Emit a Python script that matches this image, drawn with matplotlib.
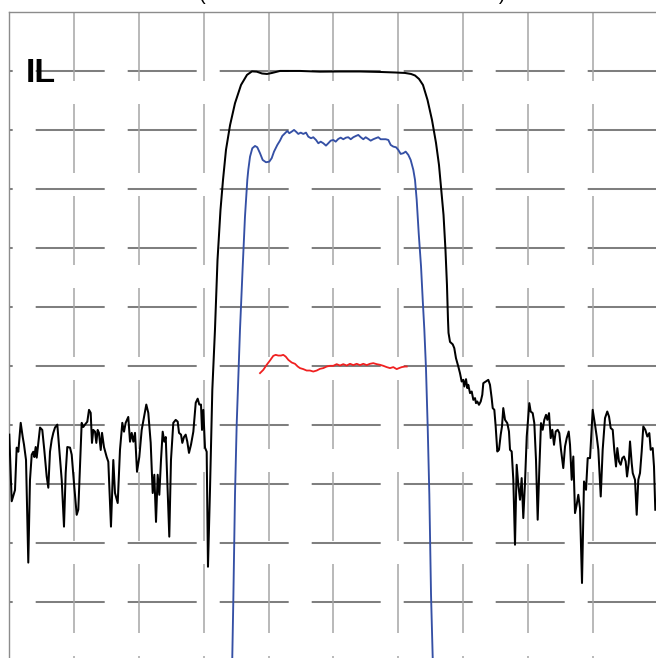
import matplotlib
matplotlib.use("Agg")
import matplotlib.pyplot as plt

plt.rcParams['lines.scale_dashes'] = False
plt.rcParams['font.family'] = ['Liberation Sans', 'DejaVu Sans']

# ---------------- data (x: frequency, 10 units/div; y: dB, 10 dB/div) ----------------
black_x = [0.0, 0.37, 0.88, 1.14, 1.39, 1.76, 2.07, 2.27, 2.58, 2.93, 3.19, 3.46, 3.70, 3.86, 4.07,
           4.23, 4.48, 4.74, 5.09, 5.40, 5.77, 6.02, 6.28, 6.54, 6.79, 7.05, 7.41, 7.72, 8.09, 8.44,
           8.70, 8.95, 9.37, 9.63, 9.98, 10.40, 10.65, 10.91, 11.17, 11.42, 11.68, 12.04, 12.30, 12.56,
           12.76, 12.96, 13.23, 13.43, 13.64, 13.84, 14.11, 14.31, 14.61, 15.03, 15.28, 15.69, 16.05,
           16.31, 16.73, 17.08, 17.44, 17.70, 17.96, 18.36, 18.63, 18.89, 19.14, 19.40, 19.71, 20.06,
           20.43, 20.79, 21.14, 21.45, 21.82, 22.13, 22.38, 22.64, 22.90, 23.15, 23.41, 23.67, 23.92,
           24.14, 24.38, 24.69, 24.95, 25.31, 25.68, 25.99, 26.19, 26.50, 26.70, 26.96, 27.22, 27.47,
           27.73, 28.04, 28.40, 28.77, 29.07, 29.32, 29.58, 29.74, 29.94, 30.20, 30.46, 30.66, 30.97,
           31.33, 31.74, 32.13, 32.59, 32.98, 33.44, 34.07, 34.83, 35.76, 36.68, 37.45, 38.18, 39.00,
           39.77, 40.54, 41.77, 43.31, 44.86, 47.95, 51.03, 54.12, 57.20, 59.52, 61.06, 61.99, 62.61,
           63.23, 63.84, 64.54, 65.23, 65.85, 66.31, 66.62, 67.01, 67.31, 67.54, 67.70, 67.78, 68.01,
           68.43, 68.67, 68.93, 69.29, 69.55, 69.81, 70.06, 70.22, 70.48, 70.68, 70.83, 71.10, 71.36,
           71.61, 71.87, 72.02, 72.22, 72.48, 72.75, 72.99, 73.15, 73.52, 73.92, 74.18, 74.44, 74.60,
           74.85, 75.06, 75.31, 75.57, 75.83, 76.03, 76.23, 76.50, 76.85, 77.11, 77.27, 77.53, 77.78,
           78.04, 78.30, 78.55, 78.81, 79.07, 79.32, 79.58, 79.85, 80.25, 80.46, 80.77, 81.02, 81.28,
           81.54, 81.79, 82.05, 82.31, 82.56, 82.83, 83.03, 83.29, 83.55, 83.80, 84.06, 84.32, 84.63,
           84.88, 85.14, 85.49, 85.76, 86.02, 86.33, 86.53, 86.79, 87.04, 87.30, 87.56, 87.81, 88.07,
           88.38, 88.69, 89.00, 89.26, 89.62, 90.03, 90.39, 90.65, 90.90, 91.27, 91.57, 91.93, 92.28,
           92.55, 92.81, 93.12, 93.36, 93.63, 93.83, 94.09, 94.35, 94.60, 94.86, 95.12, 95.33, 95.59,
           95.79, 96.05, 96.21, 96.56, 96.82, 97.07, 97.33, 97.59, 97.84, 98.15, 98.46, 98.77, 98.98,
           99.29, 99.49, 99.69]
black_y = [-71.7, -83.0, -81.1, -73.9, -74.6, -69.7, -72.1, -73.4, -76.0, -93.4, -79.4, -75.1, -74.6, -75.5, -73.8,
           -75.6, -73.1, -70.5, -70.9, -74.3, -78.8, -80.7, -74.6, -72.6, -71.4, -70.5, -70.0, -74.3, -79.4, -87.3,
           -78.2, -73.8, -73.9, -75.1, -79.9, -85.3, -84.4, -77.2, -69.7, -70.4, -70.0, -69.5, -67.5, -68.0,
           -73.1, -70.9, -71.2, -73.1, -70.9, -71.4, -74.3, -71.4, -73.8, -75.5, -76.3, -87.3, -76.0,
           -81.6, -83.3, -74.3, -69.7, -71.2, -69.7, -68.7, -72.9, -71.4, -72.9, -71.4, -78.0, -75.5,
           -70.9, -68.7, -66.6, -68.0, -73.1, -81.6, -78.5, -86.5, -78.5, -81.9, -76.0, -71.2, -72.9,
           -72.1, -79.4, -89.0, -76.0, -69.7, -69.2, -69.5, -71.4, -71.7, -73.1, -72.1, -71.7, -72.9,
           -74.8, -73.4, -71.2, -66.3, -65.6, -66.6, -66.6, -70.9, -67.5, -73.9, -74.6, -94.1, -81.1,
           -64.1, -53.9, -42.1, -33.6, -28.5, -23.4, -19.2, -15.5, -12.4, -10.7, -10.1, -10.15, -10.46,
           -10.54, -10.37, -10.03, -10.03, -10.03, -10.15, -10.12, -10.12, -10.20, -10.29, -10.37, -10.54, -10.80,
           -11.39, -12.41, -14.95, -18.34, -22.24, -25.97, -29.69, -34.44, -40.37, -46.30, -52.24, -54.44, -55.97,
           -56.39, -57.03, -58.73, -60.15, -61.27, -62.69, -62.41, -63.54, -62.29, -63.81, -63.25, -64.66, -64.39,
           -65.80, -65.51, -66.36, -66.08, -66.64, -66.08, -64.95, -62.97, -62.69, -62.41, -63.25, -65.51, -67.20,
           -67.49, -70.32, -74.56, -74.27, -71.73, -70.32, -67.20, -69.19, -69.75, -71.17, -74.27, -74.56, -79.36,
           -90.37, -76.81, -80.20, -82.74, -79.07, -85.85, -79.91, -72.02, -66.36, -67.78, -68.05, -69.75, -75.97,
           -86.13, -77.66, -69.75, -70.88, -69.19, -68.34, -69.19, -68.05, -72.29, -70.88, -73.42, -71.17, -70.88,
           -71.44, -74.27, -77.37, -73.71, -72.29, -71.17, -73.42, -79.36, -75.41, -85.00, -83.59, -81.90, -84.15,
           -96.86, -79.64, -81.05, -75.68, -75.68, -67.49, -70.03, -72.02, -74.27, -82.19, -74.27, -68.90, -67.78,
           -68.63, -70.59, -70.88, -74.27, -77.10, -73.98, -76.25, -76.81, -75.68, -75.41, -76.25, -78.80, -76.53,
           -72.86, -76.53, -78.22, -79.36, -85.29, -79.36, -78.22, -74.56, -70.32, -70.88, -72.02, -71.44, -74.27,
           -73.98, -77.10, -84.44]

blue_x = [34.32, 34.41, 34.57, 34.83, 35.09, 35.60, 36.02, 36.37, 36.73, 36.88, 37.15, 37.50, 37.92, 38.27,
          38.69, 39.10, 39.61, 40.12, 40.49, 40.85, 41.36, 41.77, 42.13, 42.55, 42.90, 43.21, 43.58, 43.94,
          44.24, 44.60, 44.97, 45.37, 45.79, 46.14, 46.56, 46.91, 47.33, 47.69, 48.06, 48.46, 48.87, 49.23,
          49.60, 50.00, 50.37, 50.77, 51.14, 51.54, 51.96, 52.31, 52.69, 53.09, 53.50, 53.86, 54.23, 54.63,
          55.00, 55.40, 55.77, 56.17, 56.54, 56.94, 57.31, 57.72, 58.09, 58.49, 58.86, 59.26, 59.68, 60.03,
          60.40, 60.80, 61.17, 61.58, 61.94, 62.35, 62.61, 62.87, 63.18, 63.54, 63.80, 64.05, 64.30, 64.57,
          64.82, 65.08, 65.34, 65.42]
blue_y = [-115.0, -109.5, -99.86, -81.85, -69.98, -53.93, -43.20, -34.73, -28.51, -26.81, -24.56, -23.14, -22.75, -22.97,
          -23.98, -25.12, -25.51, -25.41, -24.83, -23.71, -22.58, -21.85, -21.05, -20.59, -20.20, -20.59, -20.32, -20.03,
          -20.32, -20.71, -20.49, -20.71, -20.49, -21.17, -21.44, -21.27, -21.73, -22.29, -22.02, -22.29, -22.69, -22.29,
          -21.85, -21.73, -22.02, -21.56, -21.34, -21.61, -21.34, -21.27, -21.61, -21.27, -21.05, -20.88, -21.27, -21.61,
          -21.27, -21.56, -21.85, -21.61, -21.44, -21.27, -21.61, -21.61, -21.61, -21.73, -22.58, -22.86, -22.97, -23.42,
          -24.10, -23.98, -23.71, -24.27, -25.12, -26.81, -28.51, -31.90, -37.54, -43.20, -48.85, -53.93, -60.37, -70.54,
          -81.85, -98.80, -109.5, -115.0]

red_x = [38.69, 39.20, 39.72, 40.23, 40.74, 41.11, 41.51, 41.93, 42.28, 42.65, 43.06, 43.58, 44.09, 44.51,
         44.86, 45.37, 45.89, 46.40, 46.91, 47.44, 47.95, 48.46, 48.98, 49.49, 50.00, 50.52, 51.03, 51.54,
         52.07, 52.58, 53.09, 53.61, 54.12, 54.63, 55.16, 55.66, 56.17, 56.70, 57.21, 57.72, 58.24, 58.75,
         59.26, 59.78, 60.14, 60.56, 61.06, 61.33]
red_y = [-61.27, -60.71, -59.86, -59.13, -58.34, -58.17, -58.29, -58.29, -58.17, -58.46, -59.02, -59.47, -59.69, -60.15,
         -60.42, -60.59, -60.83, -60.83, -61.00, -60.83, -60.54, -60.42, -60.15, -60.03, -60.03, -59.75, -59.98, -59.75,
         -59.98, -59.69, -59.91, -59.69, -59.91, -59.69, -59.91, -59.69, -59.58, -59.75, -59.86, -60.03, -60.25, -60.42,
         -60.25, -60.59, -60.42, -60.25, -60.15, -60.15]

x_grid = [10, 20, 30, 40, 50, 60, 70, 80, 90]
y_grid = [-10, -20, -30, -40, -50, -60, -70, -80, -90, -100]
x_range = (0, 100)
y_range = (-110, 0)
label_text = "IL"
title_text = "(IL and Return Loss Measurement)"

# ---------------- figure ----------------
W, H, DPI = 656, 658, 100
fig = plt.figure(figsize=(W / DPI, H / DPI), dpi=DPI)
fig.patch.set_facecolor('white')
ax = fig.add_axes([9.3 / W, (H - 660.5) / H, 648.0 / W, 648.7 / H])
ax.set_xlim(*x_range)
ax.set_ylim(*y_range)
ax.set_xticks([])
ax.set_yticks([])
for s in ('right', 'bottom'):
    ax.spines[s].set_visible(False)
for s in ('left', 'top'):
    ax.spines[s].set_color('#8c8c8c')
    ax.spines[s].set_linewidth(1.0)

px2pt = 72.0 / DPI
on, off = 69 * px2pt, 23 * px2pt
# horizontal dashed grid (drawn left -> right)
for yv in y_grid:
    ax.plot([x_range[0], x_range[1]], [yv, yv], color='#7f7f7f', lw=1.45,
            linestyle=(65.3 * px2pt, (on, off)), solid_capstyle='butt', zorder=1)
# vertical dashed grid (drawn top -> bottom)
for xv in x_grid:
    ax.plot([xv, xv], [y_range[1], y_range[0]], color='#a6a6a6', lw=1.1,
            linestyle=(0, (on, off)), zorder=1)

ax.plot(black_x, black_y, color='#000000', lw=1.45, zorder=4, solid_joinstyle='round')
ax.plot(blue_x, blue_y, color='#3550a5', lw=1.35, zorder=3, solid_joinstyle='round')
ax.plot(red_x, red_y, color='#f02020', lw=1.3, zorder=3, solid_joinstyle='round')

ax.text(2.6, -11.9, label_text, fontsize=24.5, fontweight='bold', color='black',
        ha='left', va='baseline', zorder=5)

fig.text(352 / W, 1 + 0.5 / H, title_text, fontsize=14.2, ha='center', va='baseline',
         color='black')

fig.savefig('out.png', dpi=DPI, facecolor='white')
